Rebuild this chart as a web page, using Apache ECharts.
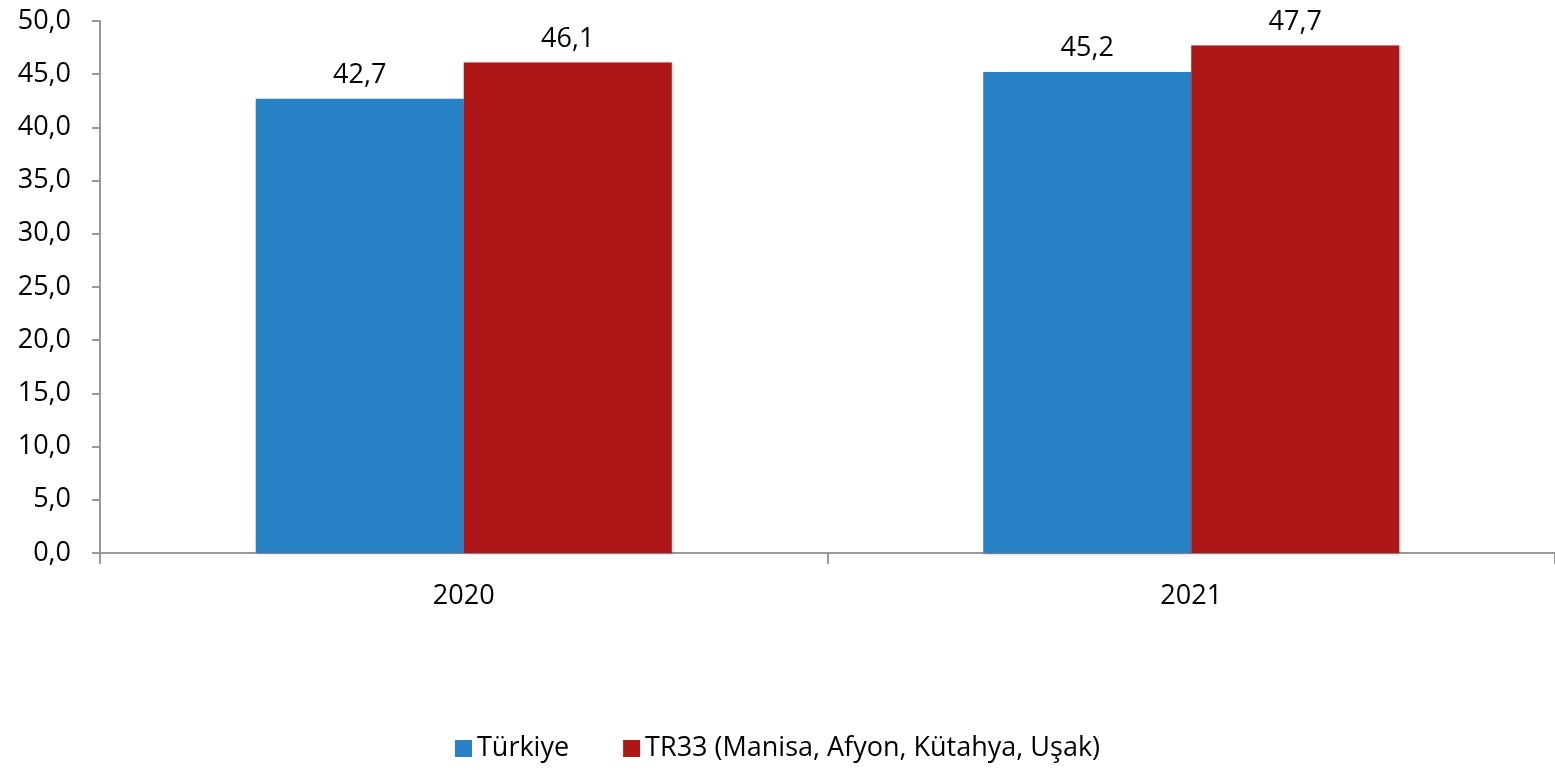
<!DOCTYPE html>
<html>
<head>
<meta charset="utf-8">
<script src="https://cdn.jsdelivr.net/npm/echarts@6/dist/echarts.min.js"></script>
<style>
  html, body { margin: 0; padding: 0; background: #fff; }
  #chart-container { width: 1555px; height: 770px; }
</style>
</head>
<body>
<div id="chart-container"></div>
<script>
const years = ['2020', '2021'];
const turkiye = [42.7, 45.2];
const tr33 = [46.1, 47.7];
const seriesNames = ['Türkiye', 'TR33 (Manisa, Afyon, Kütahya, Uşak)'];

let dom = document.getElementById('chart-container');
let myChart = echarts.init(dom, null, { renderer: 'canvas' });

const font = "'Open Sans', 'DejaVu Sans', sans-serif";
const fmt = v => v.toFixed(1).replace('.', ',');

const labelStyle = {
  show: true,
  position: 'top',
  distance: 10,
  color: '#000',
  fontSize: 27,
  fontFamily: font,
  formatter: p => fmt(p.value)
};

let option = {
  animation: false,
  grid: { left: 100, right: 0, top: 21, bottom: 217, containLabel: false },
  legend: {
    bottom: 3,
    left: 'center',
    itemWidth: 17,
    itemHeight: 17,
    itemGap: 54,
    icon: 'rect',
    textStyle: { fontSize: 27, fontFamily: font, color: '#000' },
    data: seriesNames
  },
  xAxis: {
    type: 'category',
    data: years,
    axisLine: { lineStyle: { color: '#999', width: 2 } },
    axisTick: { show: true, length: 11, lineStyle: { color: '#999', width: 2 } },
    axisLabel: { fontSize: 27, fontFamily: font, color: '#000', margin: 30 }
  },
  yAxis: {
    type: 'value',
    min: 0,
    max: 50,
    interval: 5,
    splitLine: { show: false },
    axisLine: { show: true, lineStyle: { color: '#999', width: 2 } },
    axisTick: { show: true, length: 8, lineStyle: { color: '#999', width: 2 } },
    axisLabel: { fontSize: 27, fontFamily: font, color: '#000', margin: 29, formatter: v => fmt(v) }
  },
  series: [
    {
      name: seriesNames[0],
      type: 'bar',
      data: turkiye,
      barWidth: 208,
      barGap: '0%',
      itemStyle: { color: '#2880C5', shadowColor: 'rgba(0,0,0,0.25)', shadowBlur: 3, shadowOffsetX: 1, shadowOffsetY: 1 },
      label: labelStyle
    },
    {
      name: seriesNames[1],
      type: 'bar',
      data: tr33,
      barWidth: 208,
      barGap: '0%',
      itemStyle: { color: '#AE1717', shadowColor: 'rgba(0,0,0,0.25)', shadowBlur: 3, shadowOffsetX: 1, shadowOffsetY: 1 },
      label: labelStyle
    }
  ]
};

myChart.setOption(option);
window.addEventListener('resize', myChart.resize);
</script>
</body>
</html>
